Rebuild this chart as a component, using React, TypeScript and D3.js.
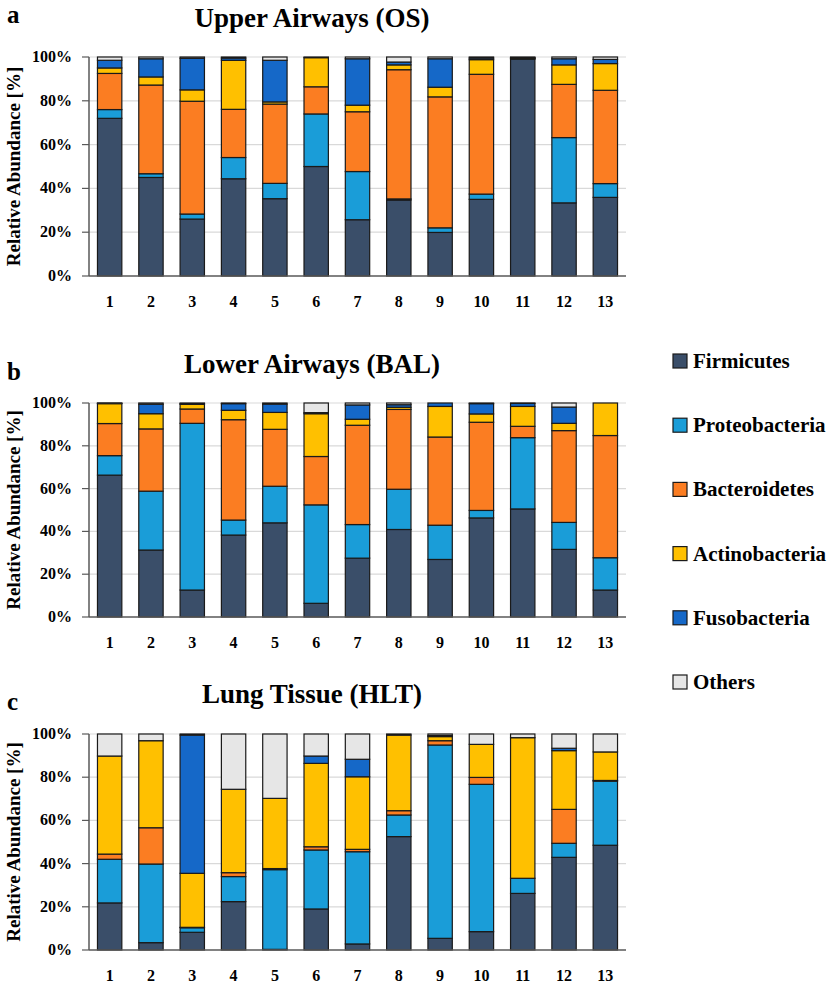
import React from 'react'
import * as d3 from 'd3'

// phyla in stacking order (bottom -> top)
const phyla = ['Firmicutes', 'Proteobacteria', 'Bacteroidetes', 'Actinobacteria', 'Fusobacteria', 'Others']
const phylumColors = ['#3a4e69', '#1a9dd8', '#fb7d22', '#ffc000', '#1568c8', '#e6e6e6']
const samples = ['1', '2', '3', '4', '5', '6', '7', '8', '9', '10', '11', '12', '13']
const yTicks = [0, 0.2, 0.4, 0.6, 0.8, 1]

// relative abundance [%] per sample, columns follow `phyla`
const upperAirways = [
  [72.0, 4.0, 16.5, 2.5, 3.5, 1.5],
  [45.0, 1.7, 40.5, 3.7, 8.3, 0.8],
  [26.0, 2.3, 51.5, 5.2, 14.4, 0.6],
  [44.4, 9.7, 22.0, 22.4, 1.0, 0.5],
  [35.3, 7.0, 36.2, 1.0, 19.0, 1.5],
  [50.0, 24.0, 12.4, 13.3, 0.0, 0.3],
  [25.7, 22.0, 27.3, 3.0, 21.2, 0.8],
  [34.7, 0.5, 59.0, 2.2, 1.3, 2.3],
  [19.9, 2.1, 59.8, 4.4, 13.0, 0.8],
  [35.0, 2.4, 54.7, 6.7, 0.7, 0.5],
  [99.0, 0.3, 0.2, 0.2, 0.3, 0.0],
  [33.4, 29.8, 24.3, 8.9, 2.8, 0.8],
  [35.9, 6.3, 42.6, 12.2, 1.9, 1.1],
]

const lowerAirways = [
  [66.3, 9.1, 15.0, 9.3, 0.2, 0.1],
  [31.3, 27.5, 29.1, 7.1, 4.4, 0.6],
  [12.6, 77.9, 6.7, 2.2, 0.3, 0.3],
  [38.3, 7.0, 46.9, 4.4, 3.1, 0.3],
  [44.0, 17.1, 26.6, 7.9, 3.9, 0.5],
  [6.4, 46.0, 22.6, 20.0, 0.5, 4.5],
  [27.5, 15.7, 46.4, 2.8, 6.7, 0.9],
  [40.9, 18.8, 37.3, 1.0, 1.2, 0.8],
  [26.9, 16.0, 41.2, 14.3, 1.6, 0.0],
  [46.3, 3.5, 41.2, 3.9, 4.8, 0.3],
  [50.5, 33.3, 5.3, 9.3, 1.4, 0.2],
  [31.6, 12.6, 42.9, 3.4, 7.6, 1.9],
  [12.6, 15.1, 57.1, 15.2, 0.0, 0.0],
]

const lungTissue = [
  [21.8, 20.2, 2.4, 45.4, 0.0, 10.2],
  [3.4, 36.4, 16.8, 40.3, 0.0, 3.1],
  [8.2, 2.1, 0.2, 25.0, 64.0, 0.5],
  [22.4, 11.6, 1.8, 38.6, 0.0, 25.6],
  [0.3, 36.9, 0.5, 32.5, 0.0, 29.8],
  [19.0, 27.3, 1.5, 38.6, 3.4, 10.2],
  [2.8, 42.7, 1.1, 33.6, 8.1, 11.7],
  [52.5, 10.0, 2.0, 35.0, 0.0, 0.5],
  [5.4, 89.5, 2.0, 1.9, 0.5, 0.7],
  [8.5, 68.2, 3.2, 15.3, 0.0, 4.8],
  [26.2, 7.0, 0.0, 65.1, 0.0, 1.7],
  [42.9, 6.5, 15.7, 27.2, 1.1, 6.6],
  [48.5, 29.7, 0.3, 13.2, 0.0, 8.3],
]

const FONT = '"Liberation Serif", "Times New Roman", serif'
const plotLeft = 89
const plotRight = 626

const panels = [
  { letter: 'a', title: 'Upper Airways (OS)', rows: upperAirways, top: 57, bottom: 276, titleY: 27, letterY: 23 },
  { letter: 'b', title: 'Lower Airways (BAL)', rows: lowerAirways, top: 403, bottom: 617, titleY: 373, letterY: 380 },
  { letter: 'c', title: 'Lung Tissue (HLT)', rows: lungTissue, top: 734, bottom: 950, titleY: 703, letterY: 710 },
]

function Panel({ p }) {
  const data = p.rows.map((r, i) => {
    const o: any = { sample: samples[i] }
    phyla.forEach((k, j) => (o[k] = r[j]))
    return o
  })
  const series = d3.stack().keys(phyla).offset(d3.stackOffsetExpand)(data)
  const x = d3.scaleBand().domain(samples).range([plotLeft, plotRight]).paddingInner(0.41).paddingOuter(0.205)
  const y = d3.scaleLinear().domain([0, 1]).range([p.bottom, p.top])
  const midY = (p.top + p.bottom) / 2

  return (
    <g>
      <text x={7} y={p.letterY} fontFamily={FONT} fontWeight="bold" fontSize={25}>{p.letter}</text>
      <text x={312} y={p.titleY} textAnchor="middle" fontFamily={FONT} fontWeight="bold" fontSize={27}>{p.title}</text>
      {yTicks.map(t => (
        <g key={t}>
          {t > 0 && <line x1={plotLeft} x2={plotRight} y1={y(t)} y2={y(t)} stroke="#d9d9d9" strokeWidth={1.2} />}
          <line x1={plotLeft - 7} x2={plotLeft} y1={y(t)} y2={y(t)} stroke="#595959" strokeWidth={1.2} />
          <text x={plotLeft - 17} y={y(t) + 5} textAnchor="end" fontFamily={FONT} fontWeight="bold" fontSize={16}>{`${Math.round(t * 100)}%`}</text>
        </g>
      ))}
      <text transform={`translate(20,${midY}) rotate(-90)`} textAnchor="middle" fontFamily={FONT} fontWeight="bold" fontSize={19}>Relative Abundance [%]</text>
      {series.map((s, j) => (
        <g key={s.key} fill={phylumColors[j]}>
          {s.map((d, i) => (d[1] - d[0] > 0.0004 ? (
            <rect key={i} x={x(samples[i])} width={x.bandwidth()} y={y(d[1])} height={y(d[0]) - y(d[1])}
              stroke="#1a1a1a" strokeWidth={1.2} />
          ) : null))}
        </g>
      ))}
      <line x1={plotLeft} x2={plotLeft} y1={p.top} y2={p.bottom} stroke="#595959" strokeWidth={1.5} />
      <line x1={plotLeft} x2={plotRight} y1={p.bottom} y2={p.bottom} stroke="#595959" strokeWidth={1.5} />
      {samples.map(s => (
        <text key={s} x={x(s) + x.bandwidth() / 2} y={p.bottom + 31} textAnchor="middle" fontFamily={FONT} fontWeight="bold" fontSize={16}>{s}</text>
      ))}
    </g>
  )
}

export default function App() {
  const legendY = d3.scalePoint().domain(phyla).range([361, 682])
  return (
    <svg width={835} height={985} style={{ position: 'absolute', left: 0, top: 0, background: '#fff' }}>
      {panels.map(p => <Panel key={p.letter} p={p} />)}
      {phyla.map((k, j) => (
        <g key={k}>
          <rect x={673} y={legendY(k) - 7} width={14} height={14} fill={phylumColors[j]} stroke="#1a1a1a" strokeWidth={1.2} />
          <text x={693} y={legendY(k) + 7} fontFamily={FONT} fontWeight="bold" fontSize={21}>{k}</text>
        </g>
      ))}
    </svg>
  )
}
